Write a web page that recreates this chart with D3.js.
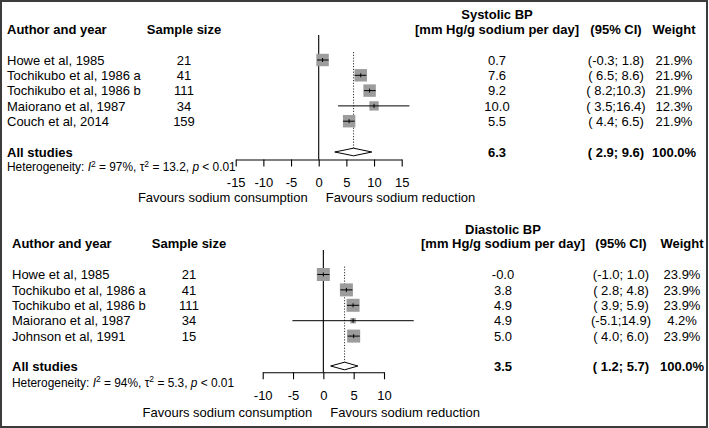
<!DOCTYPE html>
<html>
<head>
<meta charset="utf-8">
<script src="https://cdn.jsdelivr.net/npm/d3@7/dist/d3.min.js"></script>
<style>
  html, body { margin: 0; padding: 0; background: #fff; }
  svg text { font-family: "Liberation Sans", Arial, Helvetica, sans-serif; white-space: pre; fill: #000; }
</style>
</head>
<body>
<svg id="chart" width="709" height="428"></svg>
<script>
// ---------- data ----------
const sysStudies = ["Howe et al, 1985", "Tochikubo et al, 1986 a", "Tochikubo et al, 1986 b", "Maiorano et al, 1987", "Couch et al, 2014"];
const sysN = [21, 41, 111, 34, 159];
const sysEst = [0.7, 7.6, 9.2, 10.0, 5.5];
const sysLo = [-0.3, 6.5, 8.2, 3.5, 4.4];
const sysHi = [1.8, 8.6, 10.3, 16.4, 6.5];
const sysWeight = [21.9, 21.9, 21.9, 12.3, 21.9];
const sysPooled = [6.3, 2.9, 9.6];          // estimate, lower, upper
const sysHet = ["97%", "13.2", "0.01"];      // I², tau², p
const sysTicks = [-15, -10, -5, 0, 5, 10, 15];

const diaStudies = ["Howe et al, 1985", "Tochikubo et al, 1986 a", "Tochikubo et al, 1986 b", "Maiorano et al, 1987", "Johnson et al, 1991"];
const diaN = [21, 41, 111, 34, 15];
const diaEst = [-0.0, 3.8, 4.9, 4.9, 5.0];
const diaLo = [-1.0, 2.8, 3.9, -5.1, 4.0];
const diaHi = [1.0, 4.8, 5.9, 14.9, 6.0];
const diaWeight = [23.9, 23.9, 23.9, 4.2, 23.9];
const diaPooled = [3.5, 1.2, 5.7];
const diaHet = ["94%", "5.3", "0.01"];
const diaTicks = [-10, -5, 0, 5, 10];

// ---------- helpers ----------
const FS = 13;
const svg = d3.select("#chart");
svg.append("rect").attr("x", 1).attr("y", 1).attr("width", 706).attr("height", 426)
  .attr("fill", "none").attr("stroke", "#3c3c3c").attr("stroke-width", 2);

function f1(v) { return (v < 0 || Object.is(v, -0)) ? "-" + Math.abs(v).toFixed(1) : v.toFixed(1); }
function pad4(v) { const s = f1(v); return s.length < 4 ? " ".repeat(4 - s.length) + s : s; }
function ci(lo, hi) { return "(" + pad4(lo) + ";" + pad4(hi) + ")"; }
const sizeScale = d3.scaleSqrt().domain([0, 23.9]).range([0, 13]);

function text(g, x, y, s, anchor, bold, size) {
  return g.append("text").attr("x", x).attr("y", y)
    .attr("text-anchor", anchor || "start")
    .attr("font-weight", bold ? "bold" : "normal")
    .attr("font-size", (size || FS) + "px").text(s);
}

function panel(cfg) {
  const g = svg.append("g");
  const x = d3.scaleLinear().domain(cfg.domain).range(cfg.range);
  const off = 4.7; // center -> baseline
  // headers
  text(g, cfg.colEst, cfg.yTitle + off, cfg.title, "middle", true);
  text(g, cfg.colStudy, cfg.yHead + off, "Author and year", "start", true);
  text(g, cfg.colN, cfg.yHead + off, "Sample size", "middle", true);
  text(g, cfg.colEst, cfg.yHead + off, "[mm Hg/g sodium per day]", "middle", true);
  text(g, cfg.colCI, cfg.yHead + off, "(95% CI)", "middle", true);
  text(g, cfg.colW, cfg.yHead + off, "Weight", "middle", true);

  const rowY = i => cfg.yRow0 + i * cfg.rowStep;

  // zero line
  g.append("line").attr("x1", x(0)).attr("x2", x(0))
    .attr("y1", cfg.yZeroTop).attr("y2", cfg.yAxis)
    .attr("stroke", "#000").attr("stroke-width", 1.1);
  // dotted pooled line
  g.append("line").attr("x1", x(cfg.pooled[0])).attr("x2", x(cfg.pooled[0]))
    .attr("y1", rowY(0) - 8).attr("y2", cfg.ySum)
    .attr("stroke", "#333").attr("stroke-width", 1).attr("stroke-dasharray", "1.2,1.6");

  cfg.studies.forEach((s, i) => {
    const y = rowY(i);
    text(g, cfg.colStudy, y + off, s, "start");
    text(g, cfg.colN, y + off, String(cfg.n[i]), "middle");
    text(g, cfg.colEst, y + off, f1(cfg.est[i]), "middle");
    text(g, cfg.colCI, y + off, ci(cfg.lo[i], cfg.hi[i]), "middle");
    text(g, cfg.colW, y + off, cfg.w[i].toFixed(1) + "%", "middle");
    const sz = sizeScale(cfg.w[i]);
    g.append("rect").attr("x", x(cfg.est[i]) - sz / 2).attr("y", y - sz / 2)
      .attr("width", sz).attr("height", sz).attr("fill", "#9c9c9c");
    g.append("line").attr("x1", x(cfg.lo[i])).attr("x2", x(cfg.hi[i]))
      .attr("y1", y).attr("y2", y).attr("stroke", "#000").attr("stroke-width", 1);
    g.append("line").attr("x1", x(cfg.est[i])).attr("x2", x(cfg.est[i]))
      .attr("y1", y - 2).attr("y2", y + 2).attr("stroke", "#000").attr("stroke-width", 1);
  });

  // summary
  const ys = cfg.ySum;
  text(g, cfg.colStudy, ys + off, "All studies", "start", true);
  text(g, cfg.colEst, ys + off, f1(cfg.pooled[0]), "middle", true);
  text(g, cfg.colCI, ys + off, ci(cfg.pooled[1], cfg.pooled[2]), "middle", true);
  text(g, cfg.colW, ys + off, "100.0%", "middle", true);
  const dh = 3.8;
  g.append("path")
    .attr("d", `M${x(cfg.pooled[1])},${ys} L${x(cfg.pooled[0])},${ys - dh} L${x(cfg.pooled[2])},${ys} L${x(cfg.pooled[0])},${ys + dh} Z`)
    .attr("fill", "#fff").attr("stroke", "#000").attr("stroke-width", 1);

  // heterogeneity
  const hs = 11.9;
  const ht = g.append("text").attr("x", cfg.colStudy).attr("y", cfg.yHet + 4.3).attr("font-size", hs + "px");
  ht.append("tspan").text("Heterogeneity: ");
  ht.append("tspan").attr("font-style", "italic").text("I");
  ht.append("tspan").attr("dy", -4.6).attr("font-size", "8.5px").text("2");
  ht.append("tspan").attr("dy", 4.6).text(" = " + cfg.het[0] + ", \u03c4");
  ht.append("tspan").attr("dy", -4.6).attr("font-size", "8.5px").text("2");
  ht.append("tspan").attr("dy", 4.6).text(" = " + cfg.het[1] + ", ");
  ht.append("tspan").attr("font-style", "italic").text("p");
  ht.append("tspan").text(" < " + cfg.het[2]);

  // axis
  const ax = g.append("g").attr("transform", `translate(0,${cfg.yAxis})`)
    .call(d3.axisBottom(x).tickValues(cfg.ticks).tickSize(7).tickSizeOuter(0).tickPadding(11.5)
      .tickFormat(d => String(d)));
  ax.selectAll("text").attr("font-size", FS + "px").attr("font-family", "Liberation Sans, Arial, sans-serif").attr("fill", "#000");
  ax.selectAll("line, path").attr("stroke", "#000").attr("stroke-width", 1.1);
  ax.select(".domain").attr("fill", "none");

  text(g, x(0) - 11, cfg.yFav + off, "Favours sodium consumption", "end");
  text(g, x(0) + 7, cfg.yFav + off, "Favours sodium reduction", "start");
}

panel({
  title: "Systolic BP", studies: sysStudies, n: sysN, est: sysEst, lo: sysLo, hi: sysHi, w: sysWeight,
  pooled: sysPooled, het: sysHet, ticks: sysTicks,
  domain: [-15, 15], range: [235.7, 401.7],
  colStudy: 7, colN: 184, colEst: 497, colCI: 616, colW: 674,
  yTitle: 14, yHead: 29, yRow0: 60, rowStep: 15.3, ySum: 152, yHet: 167,
  yZeroTop: 35, yAxis: 159.5, yFav: 197.5
});

panel({
  title: "Diastolic BP", studies: diaStudies, n: diaN, est: diaEst, lo: diaLo, hi: diaHi, w: diaWeight,
  pooled: diaPooled, het: diaHet, ticks: diaTicks,
  domain: [-10, 10], range: [262.7, 384],
  colStudy: 12, colN: 189, colEst: 503, colCI: 621, colW: 682,
  yTitle: 229, yHead: 243.5, yRow0: 274.5, rowStep: 15.4, ySum: 366, yHet: 382.7,
  yZeroTop: 250, yAxis: 372.3, yFav: 412.7
});
</script>
</body>
</html>
